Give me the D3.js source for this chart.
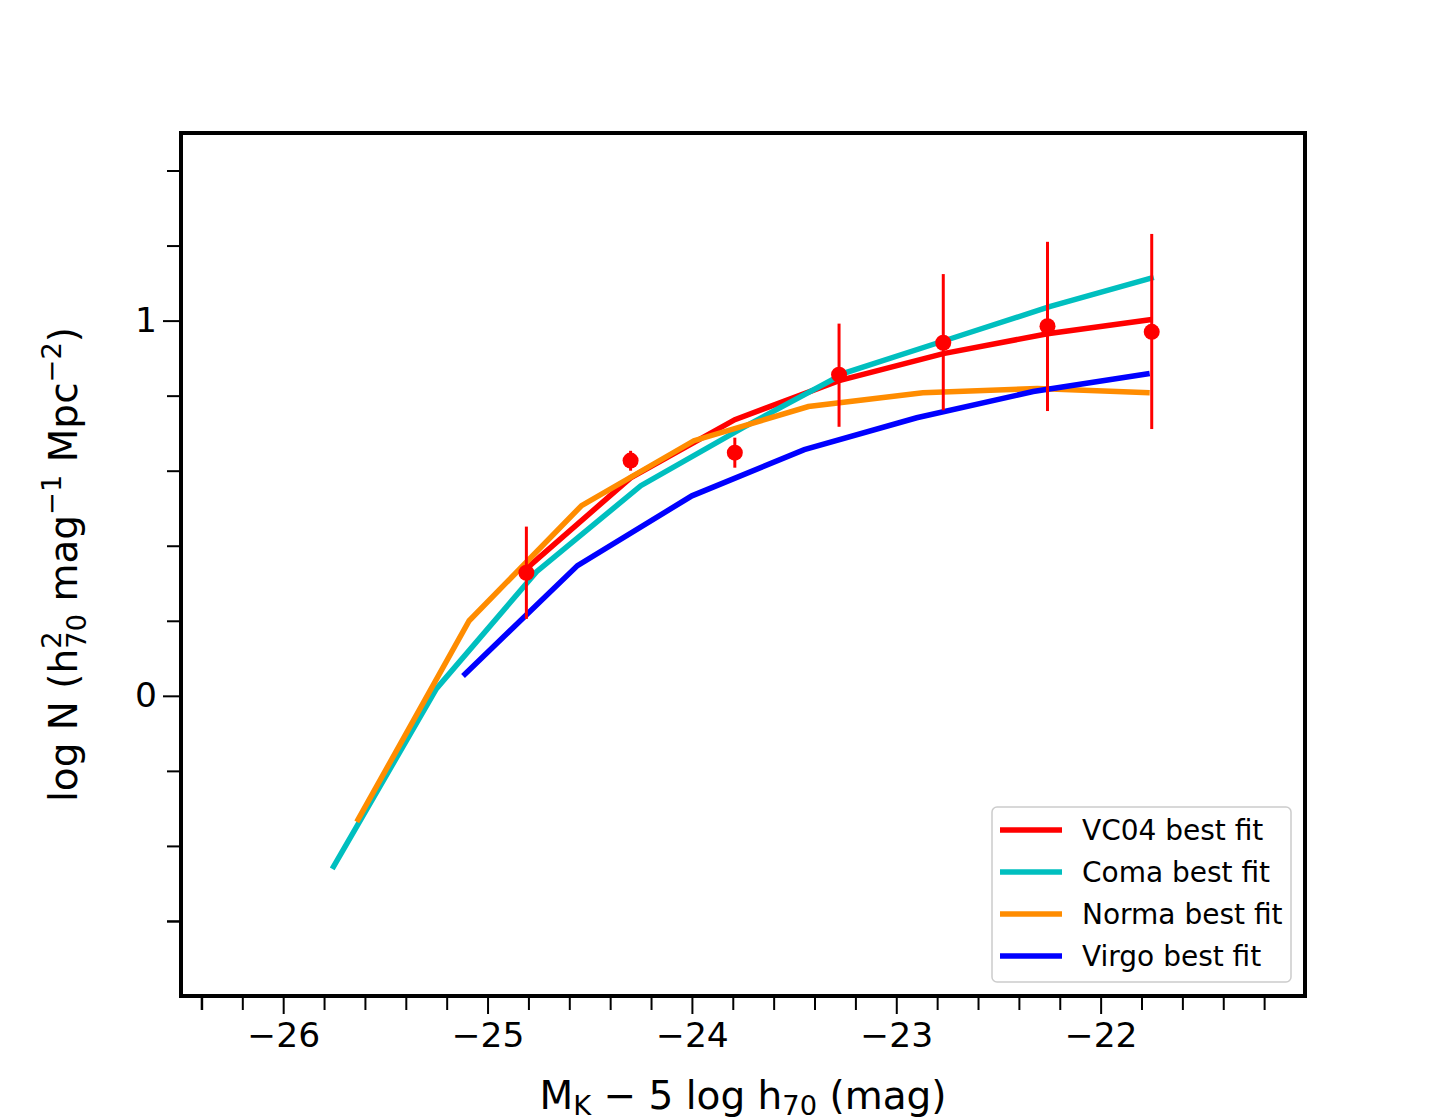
<!DOCTYPE html>
<html>
<head>
<meta charset="utf-8">
<script src="https://cdn.jsdelivr.net/npm/d3@7"></script>
<style>
  body { margin: 0; background: #fff; }
  svg { display: block; font-family: "DejaVu Sans", sans-serif; }
  text { white-space: pre; }
</style>
</head>
<body>
<svg id="chart" width="1450" height="1120"></svg>
<script>
// puntos medidos (con barras de error)
var datosX = [-24.81, -24.30, -23.79, -23.28, -22.77, -22.26, -21.75];
var datosY = [0.328, 0.627, 0.648, 0.856, 0.941, 0.985, 0.970];
var errArriba = [0.451, 0.653, 0.688, 0.992, 1.124, 1.210, 1.231];
var errAbajo = [0.205, 0.600, 0.608, 0.717, 0.761, 0.759, 0.711];

// VC04 best fit
var vc04X = [-24.81, -24.30, -23.79, -23.28, -22.77, -22.26, -21.75];
var vc04Y = [0.339, 0.581, 0.736, 0.840, 0.912, 0.965, 1.003];

// Coma best fit
var comaX = [-25.76, -25.25, -24.76, -24.25, -23.75, -23.25, -22.75, -22.25, -21.74];
var comaY = [-0.461, 0.019, 0.331, 0.560, 0.715, 0.861, 0.949, 1.037, 1.115];

// Norma best fit
var normaX = [-25.64, -25.09, -24.54, -23.99, -23.43, -22.87, -22.31, -21.76];
var normaY = [-0.336, 0.200, 0.507, 0.680, 0.771, 0.808, 0.819, 0.808];

// Virgo best fit
var virgoX = [-25.12, -24.56, -24.00, -23.45, -22.90, -22.33, -21.76];
var virgoY = [0.053, 0.347, 0.533, 0.656, 0.741, 0.811, 0.859];

var ticksX = [-26, -25, -24, -23, -22];
var ticksY = [0, 1];
var etiquetasLeyenda = ["VC04 best fit", "Coma best fit", "Norma best fit", "Virgo best fit"];
var coloresLeyenda = ["#ff0000", "#00bfbf", "#ff8c00", "#0000ff"];

var izq = 181, der = 1305, arriba = 133, abajo = 996;
var svg = d3.select("#chart");

var x = d3.scaleLinear().domain([-26.5, -21.0]).range([izq, der]);
var y = d3.scaleLinear().domain([-0.8, 1.5]).range([abajo, arriba]);

svg.append("clipPath").attr("id", "area")
    .append("rect").attr("x", izq).attr("y", arriba)
    .attr("width", der - izq).attr("height", abajo - arriba);

var zona = svg.append("g").attr("clip-path", "url(#area)");

//Lineas de ajuste
var linea = d3.line().x(function (d) { return x(d[0]); }).y(function (d) { return y(d[1]); });
var series = [
    { xs: vc04X, ys: vc04Y, color: coloresLeyenda[0] },
    { xs: comaX, ys: comaY, color: coloresLeyenda[1] },
    { xs: normaX, ys: normaY, color: coloresLeyenda[2] },
    { xs: virgoX, ys: virgoY, color: coloresLeyenda[3] }
];
series.forEach(function (s) {
    zona.append("path")
        .datum(d3.zip(s.xs, s.ys))
        .attr("d", linea)
        .attr("fill", "none")
        .attr("stroke", s.color)
        .attr("stroke-width", 5.5);
});

//Barras de error y puntos
var puntos = datosX.map(function (v, i) {
    return { x: v, y: datosY[i], hi: errArriba[i], lo: errAbajo[i] };
});
zona.selectAll(".err").data(puntos).join("line")
    .attr("class", "err")
    .attr("x1", function (d) { return x(d.x); })
    .attr("x2", function (d) { return x(d.x); })
    .attr("y1", function (d) { return y(d.hi); })
    .attr("y2", function (d) { return y(d.lo); })
    .attr("stroke", "#ff0000")
    .attr("stroke-width", 3);
zona.selectAll(".pt").data(puntos).join("circle")
    .attr("class", "pt")
    .attr("cx", function (d) { return x(d.x); })
    .attr("cy", function (d) { return y(d.y); })
    .attr("r", 8)
    .attr("fill", "#ff0000");

//Ejes
var menoresX = d3.range(-26.4, -21.0, 0.2).filter(function (v) { return Math.abs(v - Math.round(v)) > 0.01; });
var menoresY = d3.range(-0.6, 1.5, 0.2).filter(function (v) { return Math.abs(v - Math.round(v)) > 0.01; });
var fmt = function (d) { return d < 0 ? "\u2212" + Math.abs(d) : String(d); };

var ejeX = svg.append("g").attr("transform", "translate(0," + abajo + ")");
ejeX.call(d3.axisBottom(x).tickValues(menoresX).tickSize(14).tickFormat(""));
ejeX.append("g").call(d3.axisBottom(x).tickValues(ticksX).tickSize(18).tickPadding(9).tickFormat(fmt));
var ejeY = svg.append("g").attr("transform", "translate(" + izq + ",0)");
ejeY.call(d3.axisLeft(y).tickValues(menoresY).tickSize(14).tickFormat(""));
ejeY.append("g").call(d3.axisLeft(y).tickValues(ticksY).tickSize(18).tickPadding(6).tickFormat(fmt));

svg.selectAll(".domain").remove();
svg.selectAll(".tick line").attr("stroke", "#000").attr("stroke-width", 2);
ejeX.select("g").selectAll(".tick line").attr("stroke-width", 2.5);
ejeY.select("g").selectAll(".tick line").attr("stroke-width", 2.5);
svg.selectAll(".tick text").attr("font-size", 34.5).attr("fill", "#000")
    .attr("font-family", "DejaVu Sans");

//Marco
svg.append("rect").attr("x", izq).attr("y", arriba)
    .attr("width", der - izq).attr("height", abajo - arriba)
    .attr("fill", "none").attr("stroke", "#000").attr("stroke-width", 4);

//Texto matematico por piezas
function textoMat(g, piezas, tam) {
    var cx = 0, inicio = 0, ancho = 0;
    piezas.forEach(function (p) {
        var esc = p.s || 1;
        if (p.mismo) { cx = inicio; }
        else { inicio = cx; }
        var t = g.append("text").attr("x", cx).attr("y", -(p.d || 0) * tam)
            .attr("font-size", tam * esc).text(p.t);
        var w = t.node().getComputedTextLength();
        if (p.mismo) { cx = Math.max(cx + w, ancho); }
        else { cx = cx + w; }
        ancho = cx;
    });
    g.selectAll("text").attr("dx", -ancho / 2);
    return ancho;
}

var etX = svg.append("g").attr("transform", "translate(" + ((izq + der) / 2) + ",1109)");
textoMat(etX, [
    { t: "M" },
    { t: "K", s: 0.7, d: -0.15 },
    { t: " \u2212 5 log h" },
    { t: "70", s: 0.7, d: -0.15 },
    { t: " (mag)" }
], 39);

var etY = svg.append("g").attr("transform", "translate(77," + ((arriba + abajo) / 2) + ") rotate(-90)");
textoMat(etY, [
    { t: "log N (h" },
    { t: "2", s: 0.7, d: 0.42 },
    { t: "70", s: 0.7, d: -0.22, mismo: true },
    { t: " mag" },
    { t: "\u22121", s: 0.7, d: 0.42 },
    { t: " Mpc" },
    { t: "\u22122", s: 0.7, d: 0.42 },
    { t: ")" }
], 39);

//Leyenda
var ley = svg.append("g");
ley.append("rect").attr("x", 992).attr("y", 807).attr("width", 299).attr("height", 175)
    .attr("rx", 5).attr("fill", "#fff").attr("fill-opacity", 0.8)
    .attr("stroke", "#cccccc").attr("stroke-width", 1.5);
var filas = ley.selectAll(".fila").data(etiquetasLeyenda).join("g")
    .attr("class", "fila")
    .attr("transform", function (d, i) { return "translate(1000," + (830 + i * 42) + ")"; });
filas.append("line").attr("x1", 0).attr("x2", 62)
    .attr("stroke", function (d, i) { return coloresLeyenda[i]; })
    .attr("stroke-width", 5.5);
filas.append("text").attr("x", 82).attr("dy", "0.35em")
    .attr("font-size", 28).text(function (d) { return d; });
</script>
</body>
</html>
